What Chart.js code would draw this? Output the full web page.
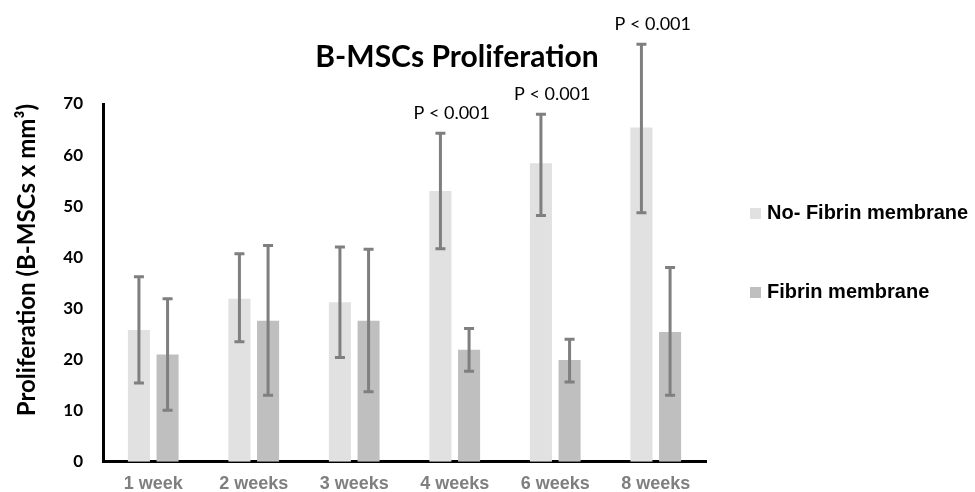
<!DOCTYPE html>
<html lang="en">
<head>
<meta charset="utf-8">
<title>B-MSCs Proliferation</title>
<script src="https://cdn.jsdelivr.net/npm/chart.js"></script>
<style>
    body {
        margin: 0;
        background: #fff;
    }

    #chartBox {
        width: 975px;
        height: 492px;
    }
</style>
</head>
<body>
<div id="chartBox"><canvas id="prolifChart"></canvas></div>
<script>
    // values
    const weeks = ['1 week', '2 weeks', '3 weeks', '4 weeks', '6 weeks', '8 weeks'];
    const noFibrin = [25.8, 31.9, 31.2, 53.0, 58.4, 65.4];
    const noFibrinLow = [15.4, 23.5, 20.4, 41.7, 48.2, 48.7];
    const noFibrinHigh = [36.2, 40.7, 42.0, 64.3, 68.0, 81.7];
    const fibrin = [21.0, 27.6, 27.6, 21.9, 19.9, 25.4];
    const fibrinLow = [10.1, 13.0, 13.7, 17.7, 15.6, 13.0];
    const fibrinHigh = [31.9, 42.3, 41.6, 26.1, 24.0, 38.0];
    const pLabels = ['', '', '', 'P < 0.001', 'P < 0.001', 'P < 0.001'];
    const seriesNames = ['No- Fibrin membrane', 'Fibrin membrane'];
    const seriesColors = ['#e1e1e1', '#bfbfbf'];

    // error bars + p values
    const errorBars = {
        id: 'errorBars',
        afterDatasetsDraw(chart) {
            const ctx = chart.ctx;
            const y = chart.scales.y;
            const ranges = [[noFibrinLow, noFibrinHigh], [fibrinLow, fibrinHigh]];
            ctx.save();
            ctx.strokeStyle = '#7f7f7f';
            ctx.lineWidth = 3;
            ranges.forEach((r, d) => {
                chart.getDatasetMeta(d).data.forEach((bar, i) => {
                    const top = y.getPixelForValue(r[1][i]);
                    const bot = y.getPixelForValue(r[0][i]);
                    ctx.beginPath();
                    ctx.moveTo(bar.x, top);
                    ctx.lineTo(bar.x, bot);
                    ctx.moveTo(bar.x - 5, top);
                    ctx.lineTo(bar.x + 5, top);
                    ctx.moveTo(bar.x - 5, bot);
                    ctx.lineTo(bar.x + 5, bot);
                    ctx.stroke();
                });
            });
            ctx.fillStyle = '#000';
            ctx.font = '18px Lato';
            ctx.textAlign = 'center';
            ctx.textBaseline = 'middle';
            pLabels.forEach((t, i) => {
                if (!t) return;
                const x = chart.scales.x.getPixelForValue(i) - 3;
                ctx.fillText(t, x, y.getPixelForValue(noFibrinHigh[i]) - 20);
            });
            ctx.restore();
        }
    };

    // title and legend placed like the original figure
    const titleLegend = {
        id: 'titleLegend',
        afterDraw(chart) {
            const ctx = chart.ctx;
            ctx.save();
            ctx.fillStyle = '#000';
            ctx.textBaseline = 'middle';
            ctx.textAlign = 'center';
            ctx.font = 'bold 30px Lato';
            ctx.fillText('B-MSCs Proliferation', 457, 57);
            ctx.textAlign = 'left';
            ctx.font = 'bold 20px "Liberation Sans"';
            const rows = [213, 292];
            seriesNames.forEach((name, i) => {
                ctx.fillStyle = seriesColors[i];
                ctx.fillRect(750, rows[i] - 5, 11, 11);
                ctx.fillStyle = '#000';
                ctx.fillText(name, 767, rows[i]);
            });
            ctx.restore();
        }
    };

    new Chart(document.getElementById('prolifChart'), {
        type: 'bar',
        data: {
            labels: weeks,
            datasets: [{
                label: seriesNames[0],
                data: noFibrin,
                backgroundColor: seriesColors[0]
            }, {
                label: seriesNames[1],
                data: fibrin,
                backgroundColor: seriesColors[1]
            }]
        },
        options: {
            responsive: true,
            maintainAspectRatio: false,
            animation: false,
            layout: {
                padding: { top: 104, right: 269, left: 0, bottom: 0 }
            },
            datasets: {
                bar: { categoryPercentage: 0.57, barPercentage: 0.77 }
            },
            plugins: {
                legend: { display: false },
                title: { display: false },
                tooltip: { enabled: false }
            },
            scales: {
                x: {
                    grid: { display: false, drawTicks: false },
                    border: { color: '#000', width: 3 },
                    ticks: {
                        color: '#7f7f7f',
                        padding: 11,
                        font: { family: 'Liberation Sans', size: 18, weight: 'bold' }
                    },
                    afterFit(s) { s.height = 30; }
                },
                y: {
                    min: 0,
                    max: 70,
                    grid: { display: false, drawTicks: false },
                    border: { color: '#000', width: 3 },
                    ticks: {
                        stepSize: 10,
                        padding: 20,
                        color: '#000',
                        font: { family: 'Lato', size: 17, weight: 'bold' }
                    },
                    title: {
                        display: true,
                        text: 'Proliferation (B-MSCs x mm³)',
                        align: 'end',
                        color: '#000',
                        padding: { top: 13, bottom: 0 },
                        font: { family: 'Lato', size: 24, weight: 'bold' }
                    },
                    afterFit(s) { s.width = 103; }
                }
            }
        },
        plugins: [errorBars, titleLegend]
    });
</script>
</body>
</html>
